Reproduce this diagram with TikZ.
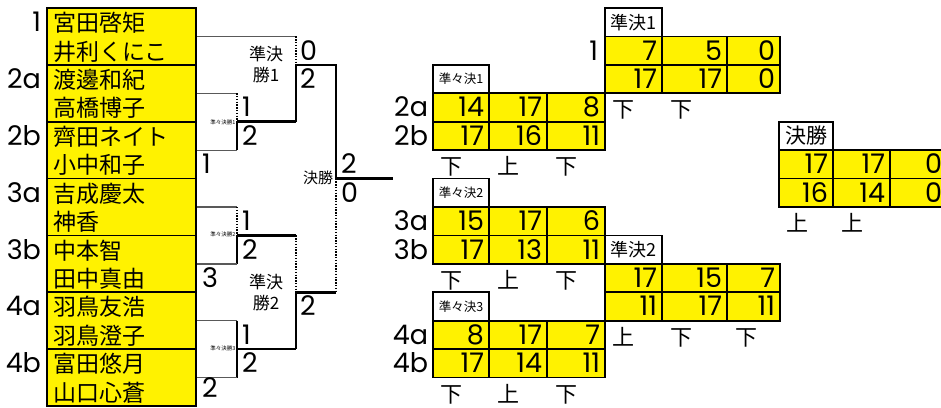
\documentclass[tikz,border=0pt]{standalone}
\usepackage{fontspec}
\setmainfont{Noto Sans CJK JP}
\newfontfamily\lat{Poppins}
\newcommand\colA{0}\newcommand\colB{0}\newcommand\colC{0}\newcommand\colD{0}
% table frame: #1 name, #2 header row, #3 header text, #4 header font size
\newcommand\sctable[4]{%
  \fill[yellow] (\colA,#2+1) rectangle (\colD,#2+3);
  \draw[tline] (\colA,#2+2) -- (\colD,#2+2);
  \draw[tline] (\colB,#2+1) -- (\colB,#2+3) (\colC,#2+1) -- (\colC,#2+3);
  \draw[tline] (\colA,#2+1) rectangle (\colD,#2+3);
  \draw[tline,fill=white] (\colA,#2) rectangle (\colB,#2+1);
  \node[font=\fontsize{#4}{#4}\selectfont] (#1h) at ({(\colA+\colB)/2},#2+0.5) {#3};
}
% a row of three scores: #1 name, #2 row, #3-#5 values
\newcommand\scrow[5]{%
  \node[num,anchor=base east] (#1a) at (\colB-5,#2+0.83) {#3};
  \node[num,anchor=base east] (#1b) at (\colC-5,#2+0.83) {#4};
  \node[num,anchor=base east] (#1c) at (\colD-5,#2+0.83) {#5};
}
% a row of hints below: #1 name, #2 row, #3-#5 values
\newcommand\hintrow[5]{%
  \node[hint] (#1a) at (\colA+7,#2+0.86) {#3};
  \node[hint] (#1b) at (\colB+8,#2+0.86) {#4};
  \node[hint] (#1c) at (\colC+8,#2+0.86) {#5};
}
\begin{document}
\begin{tikzpicture}[x=1pt,y=-28.43pt,
  every node/.style={inner sep=0pt,outer sep=0pt},
  thinl/.style={line width=1.3pt,draw=black!65},
  dotl/.style={line width=1.5pt,dash pattern=on 1.4pt off 1.4pt},
  medl/.style={line width=1.8pt},
  thkl/.style={line width=2.6pt},
  tline/.style={line width=1.8pt},
  nm/.style={font=\fontsize{23}{23}\selectfont,anchor=base west},
  num/.style={font=\lat\fontsize{27}{27}\selectfont},
  hint/.style={font=\fontsize{22}{22}\selectfont,anchor=base west},
  small/.style={font=\fontsize{5.5}{5.5}\selectfont,anchor=east}]
\useasboundingbox (0,-0.2814) rectangle (941,14.0352);

% ---------- bracket coordinates ----------
\coordinate (s1t) at (196,1);  \coordinate (s1d) at (296,1);
\coordinate (s1m) at (296,2);  \coordinate (s1b) at (296,4);
\coordinate (q1t) at (196,3);  \coordinate (q1tr) at (237,3);
\coordinate (q1m) at (237,4);  \coordinate (q1br) at (237,5);
\coordinate (q1b) at (196,5);
\coordinate (q2t) at (196,7);  \coordinate (q2tr) at (237,7);
\coordinate (q2m) at (237,8);  \coordinate (q2br) at (237,9);
\coordinate (q2b) at (196,9);
\coordinate (q3t) at (196,11); \coordinate (q3tr) at (237,11);
\coordinate (q3m) at (237,12); \coordinate (q3br) at (237,13);
\coordinate (q3b) at (196,13);
\coordinate (s2t) at (296,8);  \coordinate (s2m) at (296,10);
\coordinate (s2b) at (296,12);
\coordinate (f1) at (336,2);   \coordinate (fm) at (336,6);
\coordinate (f2) at (336,10);  \coordinate (fo) at (393,6);

% quarterfinal 1
\draw[thinl] (q1t) -- (q1tr);
\draw[dotl] (q1tr) -- (q1m);
\draw[medl] (q1m) -- (q1br);
\draw[thinl] (q1br) -- (q1b);
% quarterfinal 2
\draw[thinl] (q2t) -- (q2tr);
\draw[dotl] (q2tr) -- (q2m);
\draw[medl] (q2m) -- (q2br);
\draw[thinl] (q2br) -- (q2b);
% quarterfinal 3
\draw[thinl] (q3t) -- (q3tr);
\draw[medl,line width=1.4pt] (q3tr) -- (q3br);
\draw[thinl] (q3br) -- (q3b);
% semifinal 1
\draw[thinl] (s1t) -- (s1d);
\draw[dotl] (s1d) -- (s1m);
\draw[medl] (s1m) -- (s1b);
\draw[thkl] (q1m) -- (s1b);
% semifinal 2
\draw[thkl] (q2m) -- (s2t);
\draw[dotl] (s2t) -- (s2m);
\draw[medl] (s2m) -- (s2b);
\draw[thkl] (q3m) -- (s2b);
% final
\draw[thkl,line join=miter] (s1m) -- (f1) -- (fm) -- (fo);
\draw[dotl] (fm) -- (f2);
\draw[thkl] (s2m) -- (f2);

% ---------- player box ----------
\fill[yellow] (47,0) rectangle (196,14);
\foreach \k in {2,4,...,12} \draw[tline] (47,\k) -- (196,\k);
\draw[tline] (47,0) rectangle (196,14);
\foreach \n [count=\i from 0] in {宮田啓矩,井利くにこ,渡邊和紀,高橋博子,齊田ネイト,小中和子,吉成慶太,神香,中本智,田中真由,羽鳥友浩,羽鳥澄子,富田悠月,山口心蒼}
  \node[nm] (name\i) at (53,\i+0.83) {\n};
\foreach \s/\k in {1/0,2a/2,2b/4,3a/6,3b/8,4a/10,4b/12}
  \node[num,anchor=base east] (seed\k) at (41,\k+0.83) {\s};

% ---------- bracket labels ----------
\node[font=\fontsize{17}{21}\selectfont,align=center] (sf1lbl) at (266,1.98) {準決\\勝1};
\node[font=\fontsize{17}{21}\selectfont,align=center] (sf2lbl) at (266,10.0) {準決\\勝2};
\node[font=\fontsize{15}{15}\selectfont,anchor=east] (flbl) at (333,5.99) {決勝};
\node[small] (qf1lbl) at (235.5,4.01) {準々決勝1};
\node[small] (qf2lbl) at (235.5,7.96) {準々決勝2};
\node[small] (qf3lbl) at (235.5,11.97) {準々決勝3};

% ---------- bracket scores ----------
\foreach \x/\k/\v [count=\i] in {242/3/1,242/4/2,202/5/1,300/1/0,300/2/2,341/5/2,341/6/0,
    242/7/1,242/8/2,202/9/3,300/10/2,242/11/1,242/12/2}
  \node[num,anchor=base west] (bs\i) at (\x,\k+0.83) {\v};
\node[num,anchor=base west] (bs14) at (202,13.7) {2};

% ---------- score tables ----------
\renewcommand\colA{433}\renewcommand\colB{489}\renewcommand\colC{547}\renewcommand\colD{605}
\sctable{qf1}{2}{準々決1}{12.5}
\scrow{qf1r1}{3}{14}{17}{8}
\scrow{qf1r2}{4}{17}{16}{11}
\hintrow{qf1hn}{5}{下}{上}{下}
\sctable{qf2}{6}{準々決2}{12.5}
\scrow{qf2r1}{7}{15}{17}{6}
\scrow{qf2r2}{8}{17}{13}{11}
\hintrow{qf2hn}{9}{下}{上}{下}
\sctable{qf3}{10}{準々決3}{12.5}
\scrow{qf3r1}{11}{8}{17}{7}
\scrow{qf3r2}{12}{17}{14}{11}
\hintrow{qf3hn}{13}{下}{上}{下}

\renewcommand\colA{605}\renewcommand\colB{662}\renewcommand\colC{727}\renewcommand\colD{780}
\sctable{sf1}{0}{準決1}{18}
\scrow{sf1r1}{1}{7}{5}{0}
\scrow{sf1r2}{2}{17}{17}{0}
\hintrow{sf1hn}{3}{下}{下}{}
\sctable{sf2}{8}{準決2}{18}
\scrow{sf2r1}{9}{17}{15}{7}
\scrow{sf2r2}{10}{11}{17}{11}
\hintrow{sf2hn}{11}{上}{下}{下}

\renewcommand\colA{779}\renewcommand\colB{833}\renewcommand\colC{890}\renewcommand\colD{947}
\sctable{fin}{4}{決勝}{21}
\scrow{finr1}{5}{17}{17}{0}
\scrow{finr2}{6}{16}{14}{0}
\hintrow{finhn}{7}{上}{上}{}

% ---------- table row labels ----------
\foreach \s/\k in {2a/3,2b/4,3a/7,3b/8,4a/11,4b/12}
  \node[num,anchor=base east] (tl\k) at (428,\k+0.83) {\s};
\node[num,anchor=base east] (tl1) at (598,1.83) {1};
\end{tikzpicture}
\end{document}
